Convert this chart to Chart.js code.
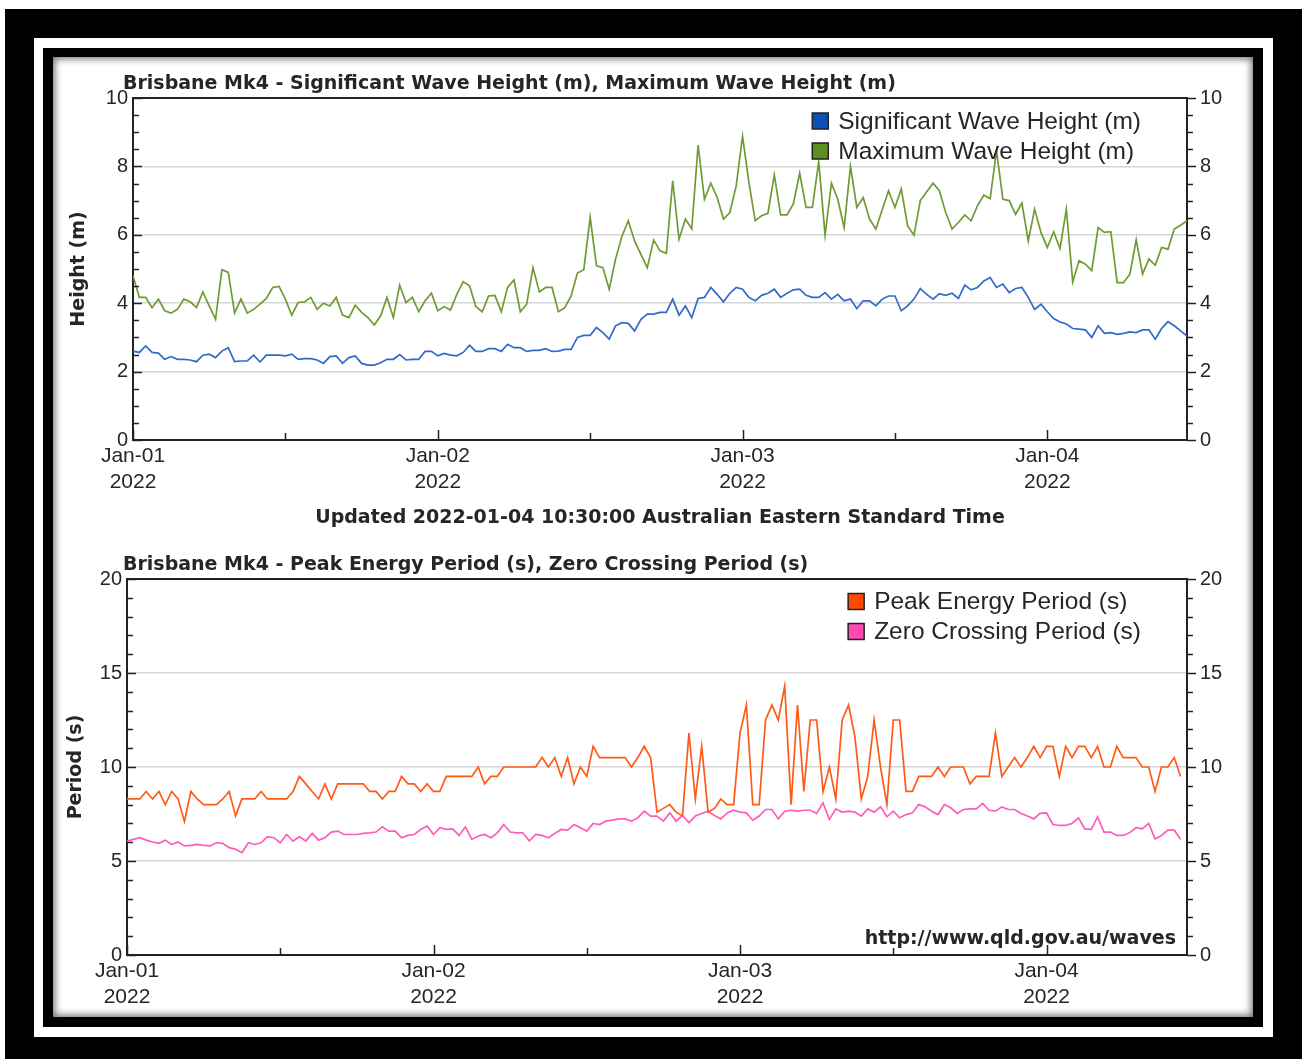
<!DOCTYPE html>
<html>
<head>
<meta charset="utf-8">
<script src="https://cdn.jsdelivr.net/npm/chart.js@4.4.0/dist/chart.umd.min.js"></script>
<style>
  body { margin: 0; background: #fff; }
  #outer { position: absolute; left: 5px; top: 9px; width: 1297px; height: 1050px; background: #000; }
  #band { position: absolute; left: 29px; top: 29px; width: 1239px; height: 999px; background: #fff; }
  #inner { position: absolute; left: 9px; top: 10px; width: 1220px; height: 979px; background: #000; }
  #panel { position: absolute; left: 10px; top: 9px; width: 1200px; height: 960px; background: #fff;
           box-shadow: inset 0 0 7px 2px rgba(0,0,0,0.55); }
  #panel canvas { position: absolute; left: 0; }
</style>
</head>
<body>
<div id="outer"><div id="band"><div id="inner"><div id="panel">
  <canvas id="waveHeight" width="1200" height="490" style="top:0"></canvas>
  <canvas id="wavePeriod" width="1200" height="470" style="top:490px"></canvas>
</div></div></div></div>
<script>
// half-hourly samples from Jan-01 00:00
const stepHours = 0.5;
const dayTicks = [0, 24, 48, 72];
const dayLabels = [['Jan-01', '2022'], ['Jan-02', '2022'], ['Jan-03', '2022'], ['Jan-04', '2022']];

const sigWave = [
  2.60,2.56,2.75,2.56,2.54,2.36,2.44,2.36,2.36,2.34,
  2.29,2.48,2.51,2.41,2.60,2.70,2.29,2.31,2.31,2.48,
  2.28,2.48,2.48,2.48,2.46,2.51,2.36,2.38,2.38,2.34,
  2.24,2.44,2.46,2.24,2.41,2.46,2.24,2.19,2.19,2.26,
  2.36,2.36,2.50,2.34,2.36,2.36,2.59,2.59,2.46,2.53,
  2.48,2.46,2.56,2.77,2.59,2.59,2.67,2.67,2.59,2.80,
  2.70,2.70,2.59,2.62,2.62,2.67,2.59,2.60,2.65,2.65,
  3.00,3.06,3.06,3.29,3.14,2.95,3.34,3.43,3.41,3.19,
  3.53,3.68,3.68,3.73,3.73,4.12,3.65,3.92,3.58,4.14,
  4.17,4.46,4.26,4.04,4.29,4.46,4.41,4.17,4.07,4.23,
  4.29,4.41,4.17,4.29,4.39,4.41,4.23,4.17,4.17,4.31,
  4.12,4.26,4.07,4.12,3.84,4.07,4.07,3.92,4.12,4.21,
  4.21,3.78,3.92,4.12,4.43,4.26,4.12,4.28,4.23,4.29,
  4.14,4.53,4.39,4.46,4.65,4.75,4.46,4.56,4.31,4.43,
  4.46,4.17,3.82,3.97,3.75,3.55,3.45,3.39,3.26,3.24,
  3.22,3.00,3.34,3.12,3.14,3.09,3.12,3.16,3.14,3.22,
  3.22,2.95,3.26,3.46,3.34,3.19,3.04
];
const maxWave = [
  4.80,4.17,4.17,3.87,4.12,3.78,3.71,3.82,4.12,4.04,
  3.87,4.33,3.92,3.53,4.98,4.90,3.71,4.12,3.71,3.82,
  3.97,4.14,4.46,4.49,4.12,3.65,4.02,4.04,4.17,3.82,
  4.00,3.92,4.17,3.65,3.58,3.94,3.73,3.58,3.36,3.63,
  4.17,3.58,4.53,4.02,4.17,3.75,4.07,4.29,3.78,3.90,
  3.80,4.26,4.63,4.51,3.90,3.75,4.21,4.23,3.75,4.46,
  4.68,3.75,3.97,5.04,4.33,4.46,4.46,3.75,3.87,4.21,
  4.88,4.98,6.51,5.09,5.04,4.41,5.29,5.95,6.41,5.82,
  5.43,5.04,5.85,5.53,5.46,7.58,5.87,6.46,6.17,8.62,
  7.04,7.51,7.09,6.46,6.65,7.43,8.88,7.53,6.41,6.56,
  6.63,7.75,6.58,6.58,6.90,7.80,6.80,6.80,8.14,5.99,
  7.51,7.04,6.21,8.00,6.80,7.09,6.46,6.17,6.73,7.29,
  6.80,7.34,6.26,5.99,7.00,7.26,7.51,7.29,6.65,6.17,
  6.36,6.58,6.41,6.85,7.16,7.06,8.46,7.04,7.00,6.60,
  6.93,5.82,6.75,6.07,5.63,6.09,5.60,6.75,4.62,5.24,
  5.14,4.95,6.21,6.07,6.09,4.60,4.60,4.85,5.85,4.85,
  5.29,5.11,5.63,5.58,6.17,6.28,6.41
];
const peakPeriod = [
  8.3,8.3,8.3,8.7,8.3,8.7,8.0,8.7,8.3,7.1,
  8.7,8.3,8.0,8.0,8.0,8.3,8.7,7.4,8.3,8.3,
  8.3,8.7,8.3,8.3,8.3,8.3,8.7,9.5,9.1,8.7,
  8.3,9.1,8.3,9.1,9.1,9.1,9.1,9.1,8.7,8.7,
  8.3,8.7,8.7,9.5,9.1,9.1,8.7,9.1,8.7,8.7,
  9.5,9.5,9.5,9.5,9.5,10.0,9.1,9.5,9.5,10.0,
  10.0,10.0,10.0,10.0,10.0,10.5,10.0,10.5,9.5,10.5,
  9.1,10.0,9.5,11.1,10.5,10.5,10.5,10.5,10.5,10.0,
  10.5,11.1,10.5,7.6,7.8,8.0,7.6,7.4,11.8,8.3,
  11.1,7.6,7.8,8.3,8.0,8.0,11.8,13.3,8.0,8.0,
  12.5,13.3,12.5,14.3,8.0,13.3,8.7,12.5,12.5,8.7,
  10.0,8.3,12.5,13.3,11.6,8.3,9.5,12.5,10.0,8.0,
  12.5,12.5,8.7,8.7,9.5,9.5,9.5,10.0,9.5,10.0,
  10.0,10.0,9.1,9.5,9.5,9.5,11.8,9.5,10.0,10.5,
  10.0,10.5,11.1,10.5,11.1,11.1,9.5,11.1,10.5,11.1,
  11.1,10.5,11.1,10.0,10.0,11.1,10.5,10.5,10.5,10.0,
  10.0,8.7,10.0,10.0,10.5,9.5
];
const zeroPeriod = [
  6.06,6.15,6.24,6.11,6.01,5.94,6.11,5.88,6.01,5.80,
  5.83,5.88,5.83,5.80,5.97,5.94,5.71,5.62,5.44,5.97,
  5.88,5.97,6.29,6.24,5.97,6.41,6.06,6.29,6.06,6.47,
  6.11,6.24,6.54,6.59,6.41,6.41,6.41,6.47,6.50,6.54,
  6.82,6.59,6.59,6.24,6.36,6.41,6.68,6.86,6.41,6.77,
  6.68,6.71,6.36,6.82,6.15,6.33,6.41,6.24,6.50,6.94,
  6.54,6.50,6.50,6.06,6.41,6.36,6.24,6.47,6.68,6.64,
  6.94,6.77,6.59,7.00,6.94,7.12,7.17,7.24,7.24,7.12,
  7.30,7.65,7.39,7.39,7.12,7.56,7.12,7.42,7.03,7.39,
  7.53,7.65,7.42,7.24,7.56,7.70,7.60,7.56,7.17,7.39,
  7.74,7.74,7.24,7.65,7.70,7.65,7.70,7.70,7.53,8.09,
  7.21,7.77,7.60,7.65,7.60,7.39,7.77,7.60,7.88,7.35,
  7.65,7.30,7.47,7.56,8.00,7.88,7.65,7.47,8.00,7.83,
  7.53,7.74,7.77,7.77,8.06,7.70,7.65,7.88,7.74,7.74,
  7.53,7.39,7.24,7.53,7.56,6.94,6.89,6.89,7.00,7.30,
  6.71,6.68,7.35,6.54,6.54,6.36,6.36,6.50,6.77,6.71,
  7.00,6.18,6.36,6.64,6.64,6.15
];

const boldFont = { family: 'DejaVu Sans', weight: 'bold', size: 19 };
const tickFont = { family: 'Liberation Sans', size: 20 };
const textColor = '#262626';

function toPoints(values) {
  return values.map((v, i) => ({ x: i * stepHours, y: v }));
}

// frame, inward ticks, legend and credit line
const framePlugin = {
  id: 'frame',
  afterLayout(chart, args, opts) {
    chart.titleBlock.left = opts.titleLeft;
  },
  afterDraw(chart, args, opts) {
    const { ctx, chartArea: a, scales } = chart;
    const xs = scales.x, ys = scales.y;
    ctx.save();
    ctx.strokeStyle = '#222';
    ctx.lineWidth = 2;
    ctx.beginPath();
    ctx.moveTo(a.left, a.top); ctx.lineTo(a.right, a.top);
    ctx.stroke();

    ctx.lineWidth = 1.5;
    ctx.beginPath();
    for (let v = ys.min; v <= ys.max + 1e-6; v += opts.yMinor) {
      const py = Math.round(ys.getPixelForValue(v)) + 0.5;
      const len = (v % opts.yMajor === 0) ? 9 : 6;
      ctx.moveTo(a.left, py); ctx.lineTo(a.left + len, py);
      ctx.moveTo(a.right, py); ctx.lineTo(a.right + len, py);
    }
    for (let v = xs.min; v <= xs.max; v += opts.xMinor) {
      const px = Math.round(xs.getPixelForValue(v)) + 0.5;
      const len = (v % 24 === 0) ? 10 : 7;
      ctx.moveTo(px, a.bottom); ctx.lineTo(px, a.bottom - len);
    }
    ctx.stroke();

    // legend
    ctx.font = '24.5px "Liberation Sans"';
    ctx.textBaseline = 'middle';
    ctx.textAlign = 'left';
    const sets = chart.data.datasets;
    const maxW = Math.max(...sets.map(d => ctx.measureText(d.label).width));
    const textX = a.right - opts.legendRight - maxW;
    sets.forEach((d, i) => {
      const cy = a.top + opts.legendTop + i * 30;
      ctx.fillStyle = d.legendColor;
      ctx.fillRect(textX - 26, cy - 8, 16, 16);
      ctx.strokeStyle = '#222';
      ctx.lineWidth = 1.5;
      ctx.strokeRect(textX - 26, cy - 8, 16, 16);
      ctx.fillStyle = textColor;
      ctx.fillText(d.label, textX, cy + 1);
    });

    if (opts.credit) {
      ctx.font = 'bold 19px "DejaVu Sans"';
      ctx.textAlign = 'right';
      ctx.textBaseline = 'alphabetic';
      ctx.fillStyle = textColor;
      ctx.fillText(opts.credit, a.right - 11, a.bottom - 11);
    }
    ctx.restore();
  }
};

function makeChart(id, cfg) {
  return new Chart(id, {
    type: 'line',
    data: { datasets: cfg.datasets },
    options: {
      responsive: false,
      animation: false,
      layout: { padding: 0 },
      elements: { point: { radius: 0 }, line: { tension: 0, borderWidth: 1.7 } },
      plugins: {
        legend: { display: false },
        tooltip: { enabled: false },
        title: {
          display: true, text: cfg.title, align: 'start', color: textColor,
          font: boldFont, padding: cfg.titlePadding
        },
        frame: {
          titleLeft: 70, yMinor: cfg.yMinor, yMajor: cfg.yMajor, xMinor: 12,
          legendTop: cfg.legendTop, legendRight: 46, credit: cfg.credit
        }
      },
      scales: {
        x: {
          type: 'linear', min: 0, max: 83,
          afterBuildTicks: s => { s.ticks = dayTicks.map(v => ({ value: v })); },
          afterFit: s => { s.height = cfg.xHeight; },
          ticks: {
            autoSkip: false, maxRotation: 0, padding: 3, color: textColor,
            font: { family: 'Liberation Sans', size: 21, lineHeight: 1.24 },
            callback: v => dayLabels[dayTicks.indexOf(v)]
          },
          grid: { display: false, drawTicks: false },
          border: { color: '#222', width: 2 },
          title: cfg.xTitle ? {
            display: true, text: cfg.xTitle, color: textColor, font: boldFont,
            padding: { top: 0, bottom: 18 }
          } : { display: false }
        },
        y: {
          min: 0, max: cfg.yMax,
          afterFit: s => { s.width = cfg.leftWidth; },
          ticks: { stepSize: cfg.yMajor, padding: 5, color: textColor, font: tickFont },
          grid: { color: '#d6d6d6', lineWidth: 1.5, drawTicks: false },
          border: { color: '#222', width: 2 },
          title: {
            display: true, text: cfg.yTitle, color: textColor, font: boldFont,
            padding: { top: cfg.yTitlePad, bottom: 0 }
          }
        },
        y2: {
          position: 'right', min: 0, max: cfg.yMax,
          afterFit: s => { s.width = 66; },
          ticks: { stepSize: cfg.yMajor, padding: 13, color: textColor, font: tickFont },
          grid: { drawOnChartArea: false, drawTicks: false },
          border: { color: '#222', width: 2 }
        }
      }
    },
    plugins: [framePlugin]
  });
}

makeChart('waveHeight', {
  title: 'Brisbane Mk4 - Significant Wave Height (m), Maximum Wave Height (m)',
  titlePadding: { top: 15.6, bottom: 2.6 },
  xTitle: 'Updated 2022-01-04 10:30:00 Australian Eastern Standard Time',
  xHeight: 107,
  yTitle: 'Height (m)', yTitlePad: 15,
  yMax: 10, yMajor: 2, yMinor: 0.5,
  leftWidth: 80, legendTop: 23,
  datasets: [
    { label: 'Significant Wave Height (m)', data: toPoints(sigWave), borderColor: '#3169cc', legendColor: '#0c4fb6' },
    { label: 'Maximum Wave Height (m)', data: toPoints(maxWave), borderColor: '#6e9b33', legendColor: '#5e8e20' }
  ]
});

makeChart('wavePeriod', {
  title: 'Brisbane Mk4 - Peak Energy Period (s), Zero Crossing Period (s)',
  titlePadding: { top: 6.6, bottom: 2.6 },
  xTitle: null,
  xHeight: 62,
  yTitle: 'Period (s)', yTitlePad: 12,
  yMax: 20, yMajor: 5, yMinor: 1,
  leftWidth: 74, legendTop: 22.5,
  credit: 'http://www.qld.gov.au/waves',
  datasets: [
    { label: 'Peak Energy Period (s)', data: toPoints(peakPeriod), borderColor: '#ff5a16', legendColor: '#ff4a00' },
    { label: 'Zero Crossing Period (s)', data: toPoints(zeroPeriod), borderColor: '#ff5cba', legendColor: '#ff48b0' }
  ]
});
</script>
</body>
</html>
